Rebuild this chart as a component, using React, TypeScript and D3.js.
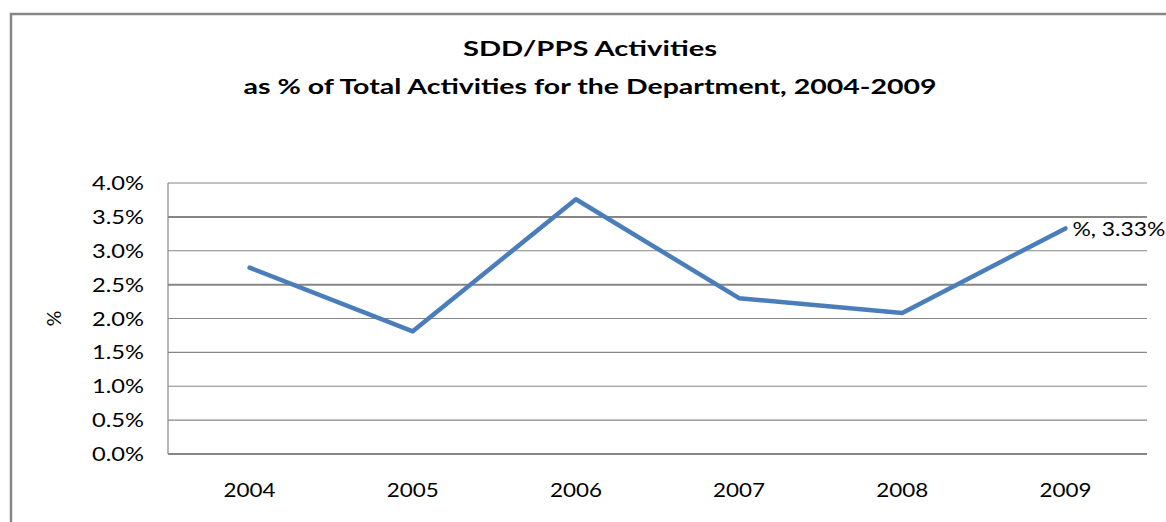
import React from "react";
import * as d3 from "d3";

const years = ["2004", "2005", "2006", "2007", "2008", "2009"];
const values = [0.0275, 0.0181, 0.0376, 0.023, 0.0208, 0.0333];
const yTicks = [0, 0.005, 0.01, 0.015, 0.02, 0.025, 0.03, 0.035, 0.04];
const titleLines = ["SDD/PPS Activities", "as % of Total Activities for the Department, 2004-2009"];
const yAxisTitle = "%";
const lastLabel = "%, 3.33%";

const W = 1166;
const H = 522;
const plot = { left: 168, right: 1147, top: 183, bottom: 454 };
const font = "Lato, 'Open Sans', sans-serif";

export default function App() {
  const x = d3.scaleBand<string>().domain(years).range([plot.left, plot.right]);
  const y = d3.scaleLinear().domain([0, 0.04]).range([plot.bottom, plot.top]);
  const fmt = d3.format(".1%");
  const line = d3
    .line<number>()
    .x((_, i) => (x(years[i]) as number) + x.bandwidth() / 2)
    .y((d) => y(d));
  const thick = new Set([0, 0.025, 0.035]);
  const lx = (x(years[years.length - 1]) as number) + x.bandwidth() / 2;
  const ly = y(values[values.length - 1]);
  return (
    <svg width={W} height={H} style={{ position: "absolute", left: 0, top: 0, background: "#fff" }}>
      <rect x={0} y={0} width={W} height={H} fill="#fff" />
      <rect x={11} y={14} width={W + 20} height={H + 20} fill="#fff" stroke="#868686" strokeWidth={2.5} />
      <text x={590} y={56} textAnchor="middle" fontFamily={font} fontWeight="bold" fontSize={21} fill="#000" textLength={254} lengthAdjust="spacingAndGlyphs">
        {titleLines[0]}
      </text>
      <text x={590} y={94} textAnchor="middle" fontFamily={font} fontWeight="bold" fontSize={21} fill="#000" textLength={693} lengthAdjust="spacingAndGlyphs">
        {titleLines[1]}
      </text>
      {yTicks.map((t) => (
        <line
          key={"g" + t}
          x1={plot.left}
          x2={plot.right}
          y1={y(t)}
          y2={y(t)}
          stroke="#868686"
          strokeWidth={thick.has(t) ? 2 : 1.2}
        />
      ))}
      <line x1={plot.left} x2={plot.left} y1={plot.top} y2={plot.bottom} stroke="#868686" strokeWidth={1.2} />
      {yTicks.map((t) => (
        <text key={"t" + t} x={144} y={y(t)} dy="0.36em" textAnchor="end" fontFamily={font} fontSize={19.5} fill="#000" textLength={52} lengthAdjust="spacingAndGlyphs">
          {fmt(t)}
        </text>
      ))}
      {years.map((yr) => (
        <text key={yr} x={(x(yr) as number) + x.bandwidth() / 2} y={490} dy="0.36em" textAnchor="middle" fontFamily={font} fontSize={19.5} fill="#000" textLength={52} lengthAdjust="spacingAndGlyphs">
          {yr}
        </text>
      ))}
      <text transform={`translate(54, ${(plot.top + plot.bottom) / 2}) rotate(-90)`} textAnchor="middle" dy="0.36em" fontFamily={font} fontSize={19.5} fill="#000">
        {yAxisTitle}
      </text>
      <path d={line(values) ?? ""} fill="none" stroke="#4A7EBB" strokeWidth={4.5} strokeLinejoin="round" strokeLinecap="round" />
      <text x={lx + 7} y={ly + 1} dy="0.36em" fontFamily={font} fontSize={19.5} fill="#000" textLength={93} lengthAdjust="spacingAndGlyphs">
        {lastLabel}
      </text>
    </svg>
  );
}
